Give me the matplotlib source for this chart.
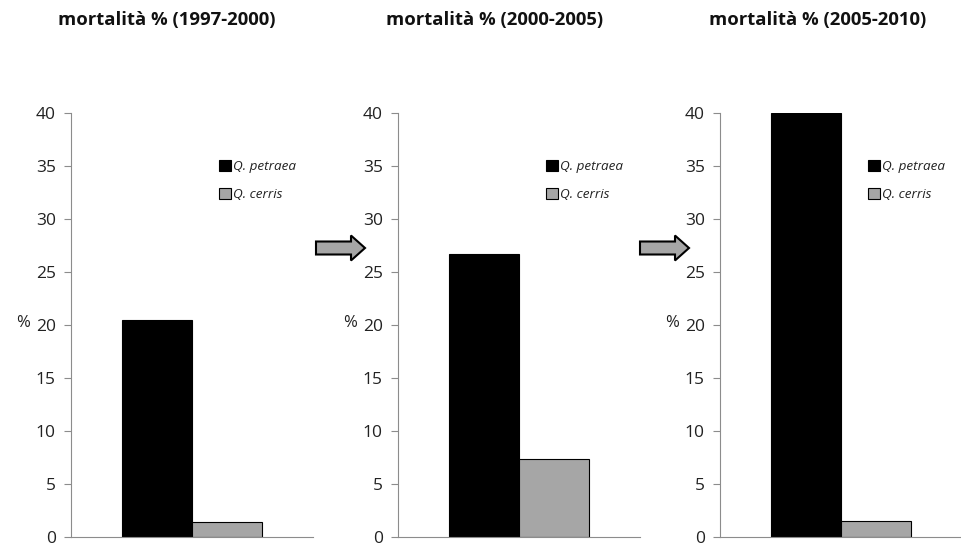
import matplotlib
matplotlib.use('Agg')
import matplotlib.pyplot as plt
from matplotlib.patches import FancyArrow, Patch

plt.rcParams['font.family'] = ['Open Sans', 'DejaVu Sans']

# dati
periodi = ['1997-2000', '2000-2005', '2005-2010']
petraea = [20.5, 26.7, 40.0]
cerris = [1.4, 7.4, 1.5]
specie = ['Q. petraea', 'Q. cerris']
colori = ['black', '#a6a6a6']

fig = plt.figure(figsize=(9.62, 5.44), dpi=100)

lefts = [71, 398, 720]
titoli_x = [167, 495, 818]
larghezza = 0.29

for i, p in enumerate(periodi):
    ax = fig.add_axes([lefts[i] / 962, 7 / 544, 242 / 962, 424 / 544])
    ax.bar(-larghezza / 2, petraea[i], width=larghezza, color=colori[0],
           edgecolor='black', linewidth=0.8, label=specie[0])
    ax.bar(larghezza / 2, cerris[i], width=larghezza, color=colori[1],
           edgecolor='black', linewidth=0.8, label=specie[1])
    ax.set_xlim(-0.5, 0.5)
    ax.set_ylim(0, 40)
    ax.set_yticks(range(0, 41, 5))
    ax.set_xticks([])
    for s in ['top', 'right']:
        ax.spines[s].set_visible(False)
    for s in ['left', 'bottom']:
        ax.spines[s].set_color('#8c8c8c')
    ax.tick_params(axis='y', length=5, color='#8c8c8c', labelsize=12.5,
                   labelcolor='#222222', pad=6)
    ax.set_ylabel('%', rotation=0, fontsize=12, color='#222222', va='center')
    ax.yaxis.set_label_coords(-0.2, 20.2 / 40)
    maniglie = [Patch(facecolor=c, edgecolor='black', linewidth=0.8) for c in colori]
    leg = ax.legend(maniglie, specie, loc='upper left', bbox_to_anchor=(0.585, 0.905),
                    frameon=False, handlelength=0.85, handleheight=0.85,
                    handletextpad=0.2, labelspacing=1.1, borderpad=0,
                    prop={'style': 'italic', 'size': 9.7})
    for t in leg.get_texts():
        t.set_color('#222222')
    fig.text(titoli_x[i] / 962, 1 - 20 / 544, 'mortalità % (' + p + ')',
             ha='center', va='center', fontsize=13.3, fontweight='bold',
             color='#111111')

# frecce tra i pannelli
for x0 in [316, 640]:
    freccia = FancyArrow(x0 / 100, (544 - 248) / 100, 0.49, 0, width=0.13,
                         head_width=0.25, head_length=0.14,
                         length_includes_head=True, transform=fig.dpi_scale_trans,
                         facecolor='#a6a6a6', edgecolor='black', linewidth=1.5)
    fig.add_artist(freccia)

fig.savefig('out.png', dpi=100)
